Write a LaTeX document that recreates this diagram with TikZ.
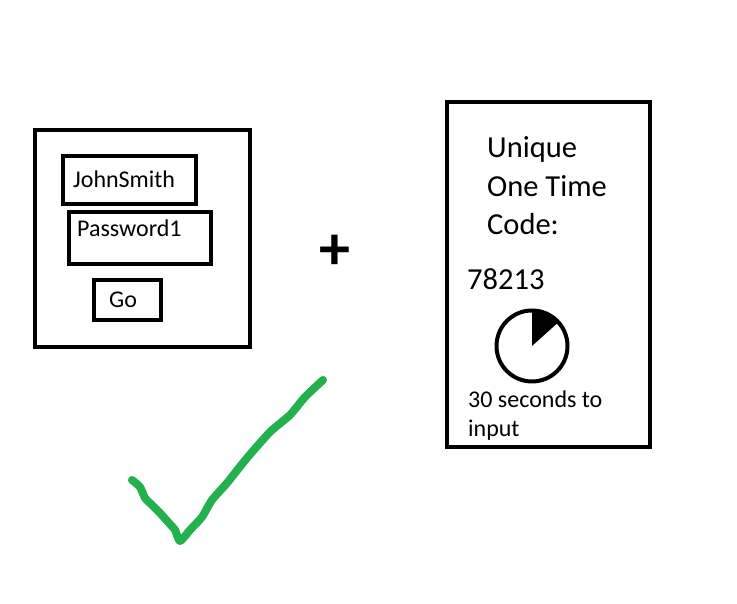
\documentclass[tikz,border=0pt]{standalone}
\usepackage{fontspec}
\setmainfont{Carlito}
\usetikzlibrary{positioning}

\definecolor{tickgreen}{RGB}{34,177,76}

\begin{document}
\begin{tikzpicture}[x=1pt,y=1pt]
  \tikzset{panel/.style = {shape=rectangle,draw,line width=4pt,inner sep=0pt}}
  \tikzset{small/.style = {anchor=base west,inner sep=0pt,font=\fontsize{24}{28}\selectfont}}
  \tikzset{big/.style = {anchor=base west,inner sep=0pt,font=\fontsize{30.5}{39}\selectfont}}
  \tikzset{tick/.style = {draw=tickgreen,line width=8pt,line cap=round,line join=round}}

  \useasboundingbox (0,0) rectangle (737,604);

  % login form
  \node[panel,minimum width=215pt,minimum height=217pt] (login) at (142.5,365.5) {};
  \node[panel,minimum width=133pt,minimum height=48pt] (user) at (129.5,424) {};
  \node[panel,minimum width=142pt,minimum height=52pt] (pass) at (140,366) {};
  \node[panel,minimum width=67pt,minimum height=40pt] (go) at (127.5,304) {};
  \node[small] (usertxt) at (73,416) {JohnSmith};
  \node[small] (passtxt) at (77,367) {Password1};
  \node[small] (gotxt) at (109,296) {Go};

  \node[inner sep=0pt,font=\fontsize{62}{62}\selectfont\bfseries] (plus) at (335,352) {+};

  % token device
  \node[panel,minimum width=203pt,minimum height=345pt] (token) at (548.5,329.5) {};
  \node[big] (line1) at (487,446) {Unique};
  \node[big] (line2) at (487,407) {One Time};
  \node[big] (line3) at (487,369) {Code:};
  \node[big] (code) at (467,314) {78213};
  \node[shape=circle,draw,line width=4pt,minimum size=71pt,inner sep=0pt] (clock) at (532,258) {};
  \fill (clock.center) -- ++(42:35.5) arc[start angle=42,end angle=90,radius=35.5] -- cycle;
  \node[small] (secs) at (468,196) {30 seconds to};
  \node[small] (input) at (468,167) {input};

  % green tick
  \draw[tick] plot[smooth,tension=0.4] coordinates {(132,124) (140,117) (145,106) (152,99) (160,91)
    (168,82) (175,74) (180,63) (190,74) (202,87) (212,104) (227,121) (247,146) (270,172) (290,189)
    (305,207) (323,224)};

\end{tikzpicture}
\end{document}
